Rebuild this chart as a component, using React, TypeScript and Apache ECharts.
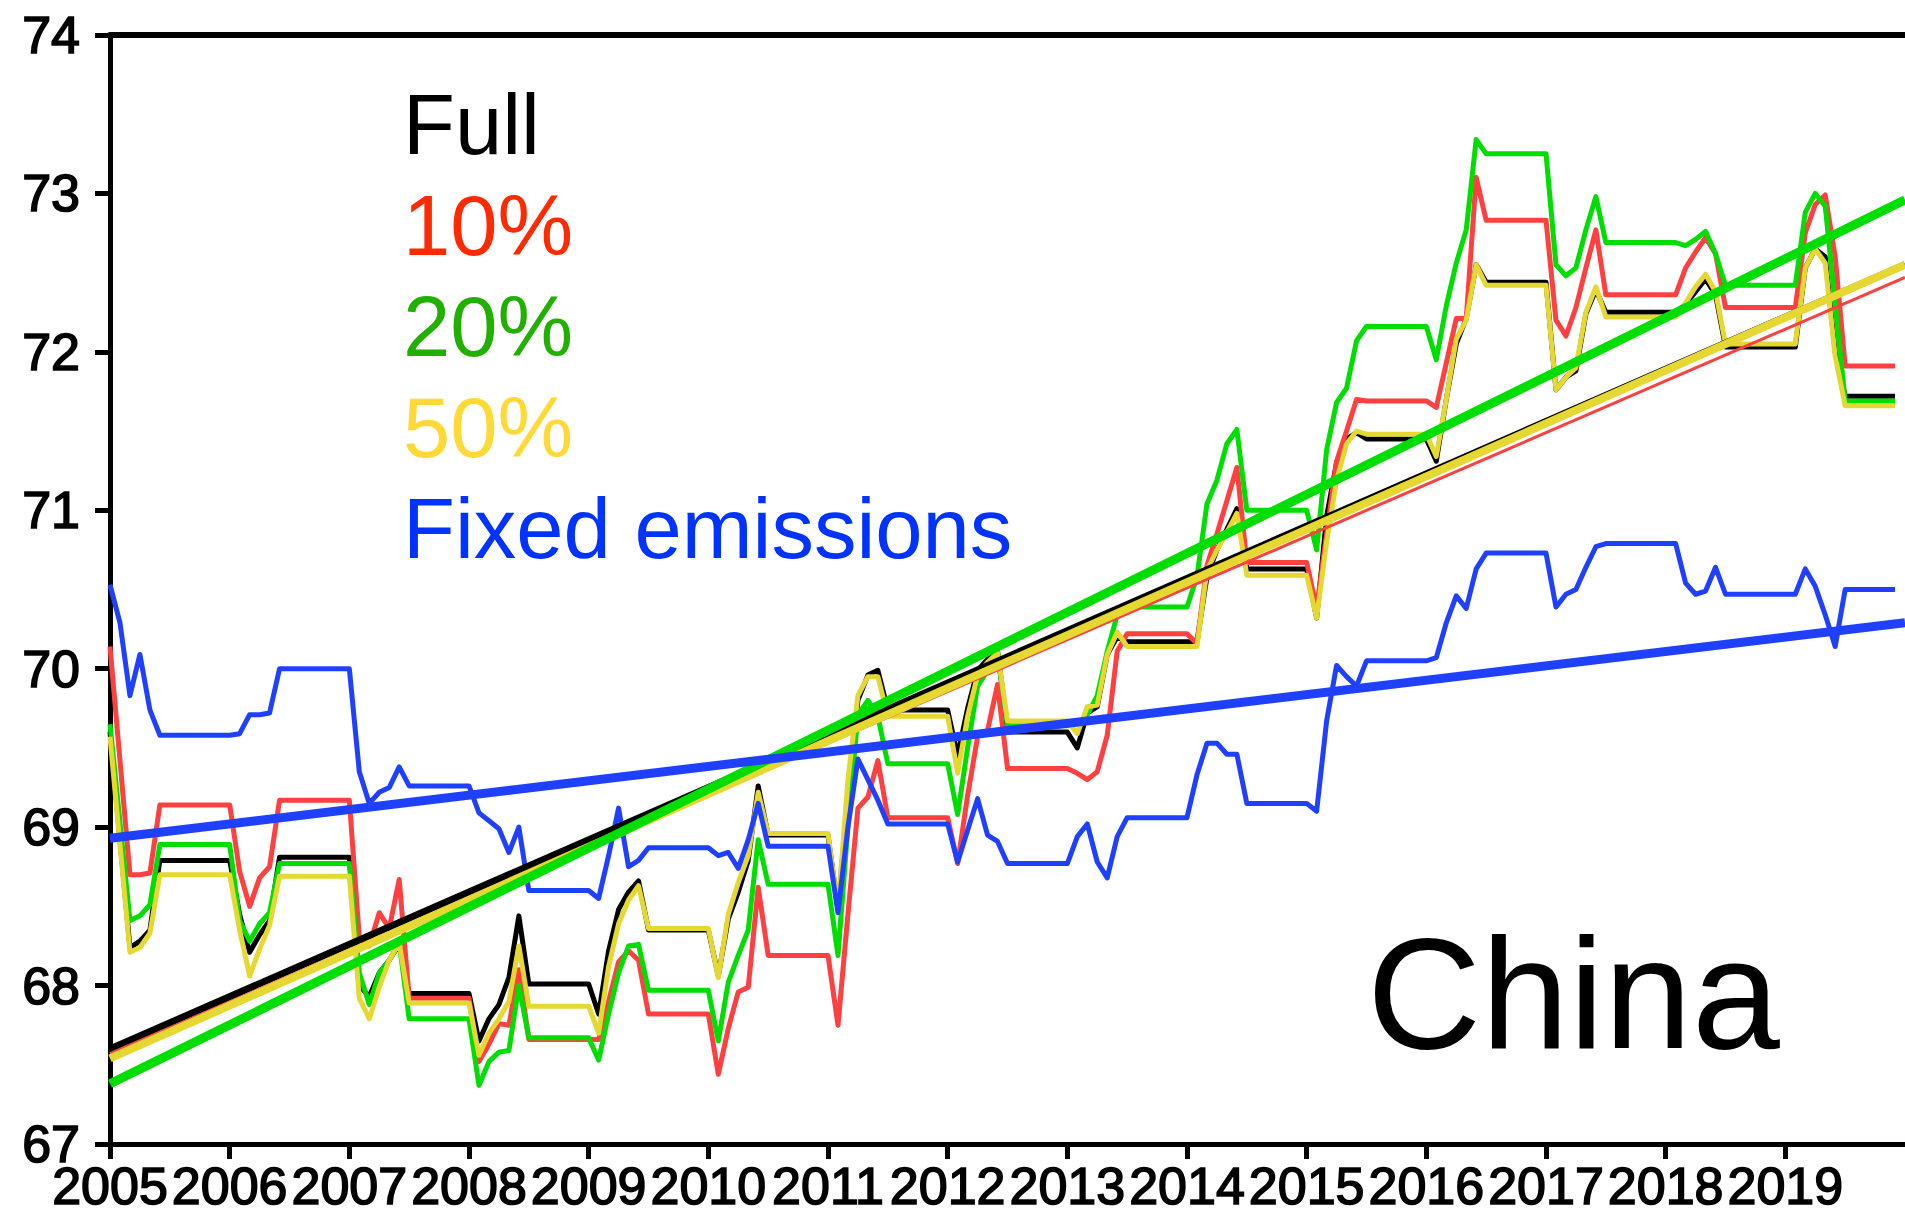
import React, { useEffect, useRef } from "react";
import * as echarts from "echarts";

// Month offsets (0 = Jan 2005) of the vertices shared by all monthly series.
const vertexMonths = [
  0, 1, 2, 3, 4, 5,
  12, 13, 14, 15, 16, 17,
  24, 25, 26, 27, 28, 29, 30,
  36, 37, 38, 39, 40, 41, 42,
  48, 49, 50, 51, 52, 53, 54,
  60, 61, 62, 63, 64, 65, 66,
  72, 73, 74, 75, 76, 77, 78,
  84, 85, 86, 87, 88, 89, 90,
  96, 97, 98, 99, 100, 101, 102,
  108, 109, 110, 111, 112, 113, 114,
  120, 121, 122, 123, 124, 125, 126,
  132, 133, 134, 135, 136, 137, 138,
  144, 145, 146, 147, 148, 149, 150,
  157, 158, 159, 160, 161, 162,
  169, 170, 171, 172, 173, 174,
  179,
];

const fullValues = [
  69.6, 68.92, 68.24, 68.28, 68.35, 68.79,
  68.79, 68.45, 68.21, 68.32, 68.41, 68.81,
  68.81, 68.0, 67.93, 68.08, 68.16, 68.26, 67.95,
  67.95, 67.65, 67.79, 67.88, 68.05, 68.44, 68.01,
  68.01, 67.82, 68.22, 68.48, 68.59, 68.66, 68.35,
  68.35, 68.06, 68.42, 68.59, 68.79, 69.26, 68.95,
  68.95, 68.48, 69.2, 69.8, 69.96, 69.99, 69.74,
  69.74, 69.45, 69.75, 69.99, 70.06, 70.11, 69.6,
  69.6, 69.5, 69.72, 69.76, 70.09, 70.2, 70.17,
  70.17, 70.17, 70.58, 70.75, 70.88, 71.01, 70.63,
  70.63, 70.32, 70.96, 71.3, 71.45, 71.49, 71.45,
  71.45, 71.31, 71.7, 72.05, 72.21, 72.55, 72.44,
  72.44, 71.76, 71.84, 71.88, 72.24, 72.39, 72.25,
  72.25, 72.3, 72.38, 72.46, 72.36, 72.03,
  72.03, 72.53, 72.65, 72.6, 72.0, 71.72,
  71.72,
];

const tenPctValues = [
  70.14, 69.42, 68.7, 68.7, 68.71, 69.14,
  69.14, 68.72, 68.5, 68.68, 68.75, 69.17,
  69.17, 68.3, 68.25, 68.46, 68.36, 68.67, 67.92,
  67.92, 67.52, 67.63, 67.76, 67.75, 68.1, 67.66,
  67.66, 67.66, 67.9, 68.15, 68.22, 68.16, 67.82,
  67.82, 67.44, 67.73, 67.96, 67.99, 68.62, 68.19,
  68.19, 67.75, 68.45, 69.12, 69.19, 69.42, 69.06,
  69.06, 68.77, 69.2, 69.57, 69.61, 69.9, 69.37,
  69.37, 69.34, 69.3, 69.35, 69.58, 70.11, 70.22,
  70.22, 70.16, 70.65, 70.85, 71.06, 71.27, 70.67,
  70.67, 70.38, 70.85, 71.31, 71.5, 71.7, 71.69,
  71.69, 71.65, 71.93, 72.21, 72.21, 73.1, 72.83,
  72.83, 72.2, 72.1, 72.28, 72.53, 72.77, 72.36,
  72.36, 72.53, 72.63, 72.72, 72.62, 72.28,
  72.28, 72.75, 72.93, 72.99, 72.6, 71.91,
  71.91,
];

const twentyPctValues = [
  69.65, 69.03, 68.41, 68.44, 68.51, 68.89,
  68.89, 68.41, 68.28, 68.39, 68.46, 68.77,
  68.77, 68.08, 67.88, 68.08, 68.16, 68.27, 67.79,
  67.79, 67.37, 67.52, 67.58, 67.59, 68.0, 67.67,
  67.67, 67.53, 67.82, 68.08, 68.25, 68.26, 67.97,
  67.97, 67.65, 68.02, 68.19, 68.35, 68.92, 68.64,
  68.64, 68.19, 69.0, 69.71, 69.8, 69.7, 69.4,
  69.4, 69.08, 69.5, 69.89, 69.99, 70.11, 69.64,
  69.64, 69.65, 69.71, 69.83, 70.11, 70.34, 70.39,
  70.39, 70.58, 71.04, 71.19, 71.42, 71.51, 71.0,
  71.0, 70.75, 71.38, 71.68, 71.77, 72.07, 72.16,
  72.16, 71.95, 72.29, 72.56, 72.77, 73.34, 73.25,
  73.25, 72.55, 72.48, 72.53, 72.77, 72.98, 72.69,
  72.69, 72.67, 72.71, 72.76, 72.62, 72.42,
  72.42, 72.88, 73.0, 72.92, 72.3, 71.69,
  71.69,
];

const fiftyPctValues = [
  69.57, 68.89, 68.21, 68.24, 68.33, 68.7,
  68.7, 68.35, 68.06, 68.23, 68.38, 68.69,
  68.69, 67.92, 67.79, 67.99, 68.16, 68.27, 67.89,
  67.89, 67.56, 67.7, 67.79, 67.9, 68.25, 67.87,
  67.87, 67.7, 68.12, 68.39, 68.54, 68.63, 68.36,
  68.36, 68.05, 68.45, 68.65, 68.82, 69.22, 68.96,
  68.96, 68.48, 69.3, 69.83, 69.95, 69.95, 69.7,
  69.7, 69.34, 69.7, 69.96, 70.04, 70.1, 69.67,
  69.67, 69.59, 69.76, 69.77, 70.09, 70.23, 70.14,
  70.14, 70.14, 70.62, 70.75, 70.86, 70.98, 70.59,
  70.59, 70.32, 70.8, 71.19, 71.42, 71.5, 71.48,
  71.48, 71.34, 71.7, 72.08, 72.2, 72.55, 72.42,
  72.42, 71.76, 71.84, 71.9, 72.25, 72.41, 72.22,
  72.22, 72.31, 72.41, 72.49, 72.38, 72.05,
  72.05, 72.53, 72.65, 72.56, 71.97, 71.66,
  71.66,
];

const fixedValues = [
  70.53, 70.29, 69.83, 70.09, 69.74, 69.58,
  69.58, 69.59, 69.71, 69.71, 69.72, 70.0,
  70.0, 69.35, 69.15, 69.22, 69.25, 69.38, 69.26,
  69.26, 69.09, 69.04, 68.99, 68.84, 69.0, 68.6,
  68.6, 68.55, 68.82, 69.12, 68.75, 68.79, 68.87,
  68.87, 68.82, 68.84, 68.74, 68.92, 69.15, 68.88,
  68.88, 68.46, 69.0, 69.43, 69.3, 69.17, 69.02,
  69.02, 68.78, 68.98, 69.18, 68.95, 68.91, 68.77,
  68.77, 68.94, 69.02, 68.78, 68.68, 68.94, 69.06,
  69.06, 69.33, 69.53, 69.53, 69.46, 69.46, 69.15,
  69.15, 69.1, 69.67, 70.02, 69.95, 69.89, 70.05,
  70.05, 70.07, 70.29, 70.46, 70.38, 70.63, 70.73,
  70.73, 70.39, 70.47, 70.5, 70.64, 70.77, 70.79,
  70.79, 70.54, 70.47, 70.49, 70.64, 70.47,
  70.47, 70.63, 70.52, 70.34, 70.14, 70.5,
  70.5,
];

// Linear trends, given by their values at the ends of the time axis.
const trendYears = [2005, 2020];
const fullTrend = [67.6, 72.55];
const tenPctTrend = [67.57, 72.47];
const twentyPctTrend = [67.38, 72.96];
const fiftyPctTrend = [67.54, 72.55];
const fixedTrend = [68.93, 70.29];

const legendLabels = ["Full", "10%", "20%", "50%", "Fixed emissions"];
const regionName = "China";

const COLORS = {
  full: "#000000",
  ten: "#ff4040",
  twenty: "#00dd00",
  fifty: "#e6d832",
  fixed: "#2040ff",
};
const LABEL_COLORS = ["#000000", "#ff2a00", "#22b000", "#ffd935", "#0033ff"];

const FONT = "'Liberation Sans', Arial, Helvetica, sans-serif";

const toPoints = (values: number[]) =>
  vertexMonths.map((m, i) => [2005 + m / 12, values[i]]);

const toTrend = (values: number[]) => trendYears.map((y, i) => [y, values[i]]);

const monthly = (name: string, values: number[], color: string) => ({
  name,
  type: "line",
  data: toPoints(values),
  showSymbol: false,
  symbol: "none",
  lineStyle: { width: 5, color, join: "round" },
  itemStyle: { color },
  silent: true,
});

const trend = (name: string, values: number[], color: string, width: number) => ({
  name,
  type: "line",
  data: toTrend(values),
  showSymbol: false,
  symbol: "none",
  lineStyle: { width, color },
  itemStyle: { color },
  silent: true,
});

const tickLabelStyle = {
  fontSize: 52,
  lineHeight: 40,
  fontFamily: FONT,
  color: "#000",
  textBorderColor: "#000",
  textBorderWidth: 1.6,
};

export default function App() {
  const ref = useRef<HTMLDivElement>(null);

  useEffect(() => {
    if (!ref.current) return;
    const chart = echarts.init(ref.current, null, { renderer: "svg" });

    const legendBaseline = 154;
    const legendStep = 101;
    const legendSize = 85;

    chart.setOption({
      animation: false,
      backgroundColor: "#ffffff",
      grid: { left: 110, top: 35, right: -22, bottom: 71 },
      xAxis: [
        {
          type: "value",
          min: 2005,
          max: 2020,
          interval: 1,
          position: "bottom",
          axisLine: { show: true, lineStyle: { color: "#000", width: 5 } },
          axisTick: { show: true, length: 15, lineStyle: { color: "#000", width: 5 } },
          axisLabel: {
            show: true,
            margin: 22,
            ...tickLabelStyle,
            showMinLabel: true,
            showMaxLabel: false,
            hideOverlap: false,
            formatter: (v: number) => String(v),
          },
          splitLine: { show: false },
        },
        {
          type: "value",
          min: 2005,
          max: 2020,
          position: "top",
          axisLine: { show: true, lineStyle: { color: "#000", width: 6 } },
          axisTick: { show: false },
          axisLabel: { show: false },
          splitLine: { show: false },
        },
      ],
      yAxis: {
        type: "value",
        min: 67,
        max: 74,
        interval: 1,
        axisLine: { show: true, lineStyle: { color: "#000", width: 5 } },
        axisTick: { show: true, length: 15, lineStyle: { color: "#000", width: 5 } },
        axisLabel: {
          margin: 30,
          ...tickLabelStyle,
          showMinLabel: true,
          showMaxLabel: true,
        },
        splitLine: { show: false },
      },
      series: [
        monthly("Full", fullValues, COLORS.full),
        monthly("10%", tenPctValues, COLORS.ten),
        monthly("20%", twentyPctValues, COLORS.twenty),
        monthly("50%", fiftyPctValues, COLORS.fifty),
        monthly("Fixed emissions", fixedValues, COLORS.fixed),
        trend("Full trend", fullTrend, COLORS.full, 7),
        trend("10% trend", tenPctTrend, COLORS.ten, 3),
        trend("50% trend", fiftyPctTrend, COLORS.fifty, 8),
        trend("20% trend", twentyPctTrend, COLORS.twenty, 9),
        trend("Fixed emissions trend", fixedTrend, COLORS.fixed, 9),
      ],
      graphic: [
        ...legendLabels.map((label, i) => ({
          type: "text",
          x: 403,
          y: legendBaseline + i * legendStep - 0.3465 * legendSize,
          silent: true,
          style: {
            text: label,
            fill: LABEL_COLORS[i],
            fontSize: legendSize,
            fontFamily: FONT,
            align: "left",
            verticalAlign: "middle",
          },
        })),
        {
          type: "text",
          x: 1367,
          y: 1048 - 0.3465 * 158,
          silent: true,
          style: {
            text: regionName,
            fill: "#000",
            fontSize: 158,
            fontFamily: FONT,
            align: "left",
            verticalAlign: "middle",
          },
        },
      ],
    });

    return () => chart.dispose();
  }, []);

  return (
    <div
      ref={ref}
      style={{
        position: "fixed",
        left: 0,
        top: 0,
        width: 1905,
        height: 1215,
        background: "#ffffff",
      }}
    />
  );
}
